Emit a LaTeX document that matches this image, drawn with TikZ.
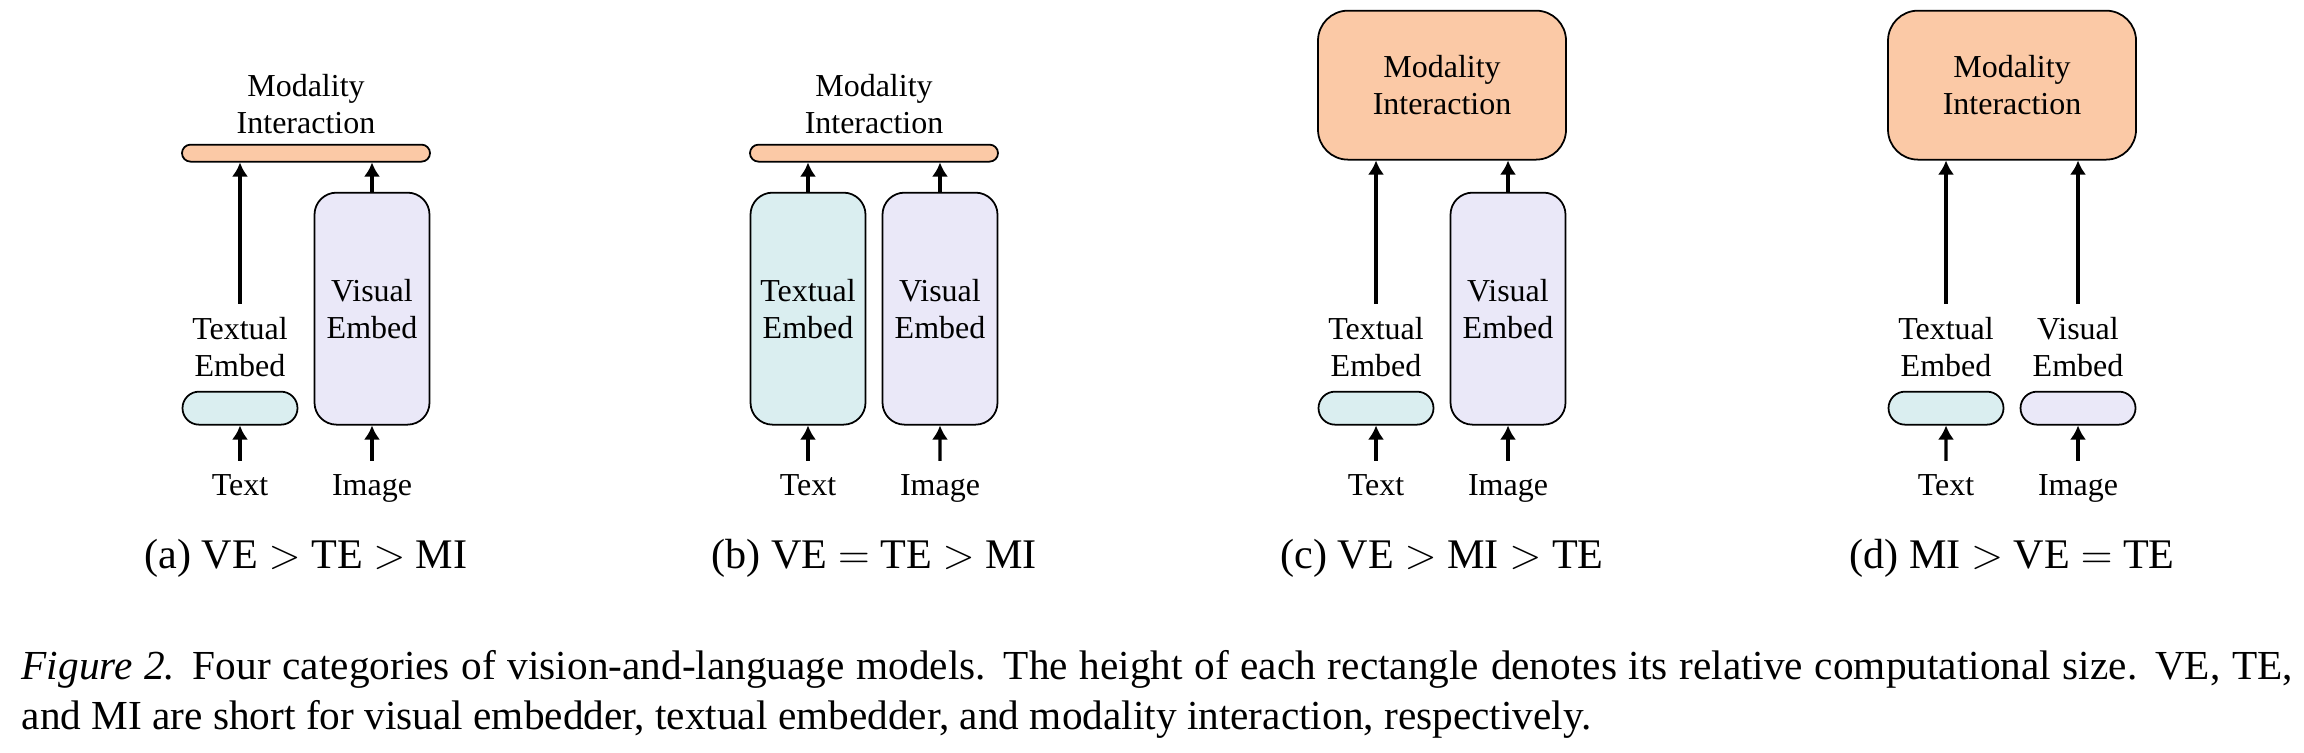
\documentclass[tikz,border=0pt]{standalone}
\usepackage{fontspec}
\setmainfont{Liberation Serif}
\usepackage{tikz}
\usetikzlibrary{arrows.meta, positioning}
\definecolor{peach}{RGB}{251, 201, 166}
\definecolor{mint}{RGB}{218, 238, 240}
\definecolor{lilac}{RGB}{234, 232, 248}

\begin{document}
\begin{tikzpicture}[
    lbl/.style={font=\fontsize{9.1}{10.5}\selectfont, align=center, inner sep=0.13cm},
    box/.style={lbl, draw, line width=0.5pt, inner sep=0pt, minimum width=1.15cm, anchor=south},
    tall/.style={box, minimum height=2.32cm, rounded corners=0.22cm},
    flat/.style={box, minimum height=0.33cm, rounded corners=0.165cm},
    bar/.style={box, fill=peach, minimum width=2.48cm, minimum height=0.17cm, rounded corners=0.085cm},
    big/.style={box, fill=peach, minimum width=2.48cm, minimum height=1.49cm, rounded corners=0.3cm},
    arr/.style={->, >={Latex[length=4pt, width=4.6pt]}, line width=0.95pt},
    sub/.style={font=\fontsize{12}{14}\selectfont, anchor=base, inner sep=0pt}]
  \path (0, 0) rectangle (23.04, -7.52);

  \node[bar] (mi1) at (3.06, -1.625) {};
  \node[lbl, above=-0.04cm of mi1] (ml1) {Modality\\Interaction};
  \node[flat, fill=mint] (te1) at (2.40, -4.255) {};
  \node[tall, fill=lilac] (ve1) at (3.72, -4.255) {Visual\\Embed};
  \node[lbl, above=0pt of te1] (tl1) {Textual\\Embed};
  \draw[arr] (tl1) -- (tl1 |- mi1.south);
  \draw[arr] (ve1) -- (ve1 |- mi1.south);

  \node[bar] (mi2) at (8.74, -1.625) {};
  \node[lbl, above=-0.04cm of mi2] (ml2) {Modality\\Interaction};
  \node[tall, fill=mint] (te2) at (8.08, -4.255) {Textual\\Embed};
  \node[tall, fill=lilac] (ve2) at (9.40, -4.255) {Visual\\Embed};
  \draw[arr] (te2) -- (te2 |- mi2.south);
  \draw[arr] (ve2) -- (ve2 |- mi2.south);

  \node[big] (mi3) at (14.42, -1.605) {Modality\\Interaction};
  \node[flat, fill=mint] (te3) at (13.76, -4.255) {};
  \node[tall, fill=lilac] (ve3) at (15.08, -4.255) {Visual\\Embed};
  \node[lbl, above=0pt of te3] (tl3) {Textual\\Embed};
  \draw[arr] (tl3) -- (tl3 |- mi3.south);
  \draw[arr] (ve3) -- (ve3 |- mi3.south);

  \node[big] (mi4) at (20.12, -1.605) {Modality\\Interaction};
  \node[flat, fill=mint] (te4) at (19.46, -4.255) {};
  \node[flat, fill=lilac] (ve4) at (20.78, -4.255) {};
  \node[lbl, above=0pt of te4] (tl4) {Textual\\Embed};
  \node[lbl, above=0pt of ve4] (vl4) {Visual\\Embed};
  \draw[arr] (tl4) -- (tl4 |- mi4.south);
  \draw[arr] (vl4) -- (vl4 |- mi4.south);

  \foreach [count=\n] \x/\cap in {3.06/{(a) VE $>$ TE $>$ MI}, 8.74/{(b) VE $=$ TE $>$ MI},
      14.42/{(c) VE $>$ MI $>$ TE}, 20.12/{(d) MI $>$ VE $=$ TE}} {
    \node[lbl, anchor=base] (tx\n) at (\x - 0.66, -4.955) {Text};
    \node[lbl, anchor=base] (im\n) at (\x + 0.66, -4.955) {Image};
    \draw[arr] (tx\n) -- (te\n);
    \draw[arr] (im\n) -- (ve\n);
    \node[sub] (cap\n) at (\x, -5.685) {\cap};
  }

  \node[anchor=north west, inner sep=0pt, text width=22.71cm, align=justify,
    font=\fontsize{11.75}{14.23}\selectfont] (fig) at (0.21, -6.5)
    {\textit{Figure 2.} Four categories of vision-and-language models. The height of each rectangle denotes its relative computational size. VE, TE,\linebreak and MI are short for visual embedder, textual embedder, and modality interaction, respectively.};
\end{tikzpicture}
\end{document}
